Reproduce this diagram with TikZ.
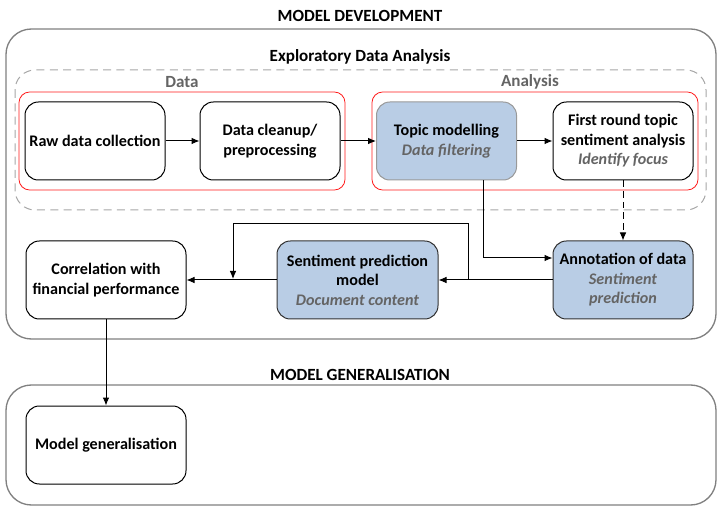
\documentclass[tikz,border=0pt]{standalone}
\usepackage{fontspec}
\setmainfont{Carlito}
\usepackage{xcolor}
\usepackage{tikz}
\usetikzlibrary{calc,arrows.meta}
\definecolor{hintgray}{RGB}{100,100,100}
\definecolor{boxblue}{RGB}{185,205,229}
\definecolor{framegray}{RGB}{128,128,128}
\newcommand{\hint}[1]{{\color{hintgray}\itshape #1}}
\tikzset{>={Latex[length=6pt,width=5pt]},
  procbox/.style={draw=black, line width=0.75pt, rounded corners=10pt, fill=white,
    minimum width=105pt, minimum height=58.5pt, align=center, inner sep=2pt,
    font=\fontsize{12.1}{14.6}\selectfont\bfseries},
  bluebox/.style={procbox, fill=boxblue, draw=black!80},
  heading/.style={font=\fontsize{12.8}{14}\selectfont\bfseries},
  conn/.style={->, line width=0.75pt}}

\begin{document}
\begin{tikzpicture}[x=0.75pt,y=-0.75pt]
        \useasboundingbox (0,0) rectangle (721,513);
        % outer frames
        \draw[framegray, line width=1pt, rounded corners=19pt](6,29) rectangle (716,339);
        \draw[framegray, line width=1pt, rounded corners=19pt](6,385) rectangle (716,505);
        \draw[gray!70, dashed, dash pattern=on 6pt off 4pt, line width=0.75pt, rounded corners=15pt](15,70) rectangle (706,210);
        \draw[red!90, line width=0.6pt, rounded corners=8pt](19,92) rectangle (345,190);
        \draw[red!90, line width=0.6pt, rounded corners=8pt](372,92) rectangle (698,190);
        % headings
        \path(360,16) node[heading] (devtitle) {MODEL DEVELOPMENT};
        \path(360,57) node[heading] (edatitle) {Exploratory Data Analysis};
        \path(182,82) node[heading, text=hintgray] (datatitle) {Data};
        \path(530,82) node[heading, text=hintgray] (anatitle) {Analysis};
        \path(360,375) node[heading] (gentitle) {MODEL GENERALISATION};
        % process steps
        \node[procbox] (raw) at (95,141) {Raw data collection};
        \node[procbox] (clean) at (270,141) {Data cleanup/\\preprocessing};
        \node[bluebox, draw=gray!80] (topic) at (446.5,141) {Topic modelling\\\hint{Data filtering}};
        \node[procbox] (first) at (623,141) {First round topic\\sentiment analysis\\\hint{Identify focus}};
        \node[bluebox] (annot) at (623,280) {Annotation of data\\\hint{Sentiment}\\\hint{prediction}};
        \node[bluebox, minimum width=120.75pt] (sent) at (357.5,280) {Sentiment prediction\\model\\\hint{Document content}};
        \node[procbox, minimum width=120pt] (corr) at (106,280) {Correlation with\\financial performance};
        \node[procbox, minimum width=120pt] (gen) at (106,445) {Model generalisation};
        % connectors
        \draw[conn](raw) -- (clean);
        \draw[conn](clean) -- (topic);
        \draw[conn](topic) -- (first);
        \draw[conn](topic.south) ++(36.5,0) |- ([yshift=16.5pt]annot.west);
        \draw[conn, dashed, dash pattern=on 5pt off 3pt](first) -- (annot);
        \draw[conn](annot) -- (sent);
        \draw[conn](sent) -- (corr);
        \coordinate (fbstart) at (468,280);
        \coordinate (fbend) at (233,279);
        \draw[conn](fbstart) -- ++(0,-56) -| (fbend);
        \draw[conn](corr) -- (gen);
      \end{tikzpicture}
\end{document}
